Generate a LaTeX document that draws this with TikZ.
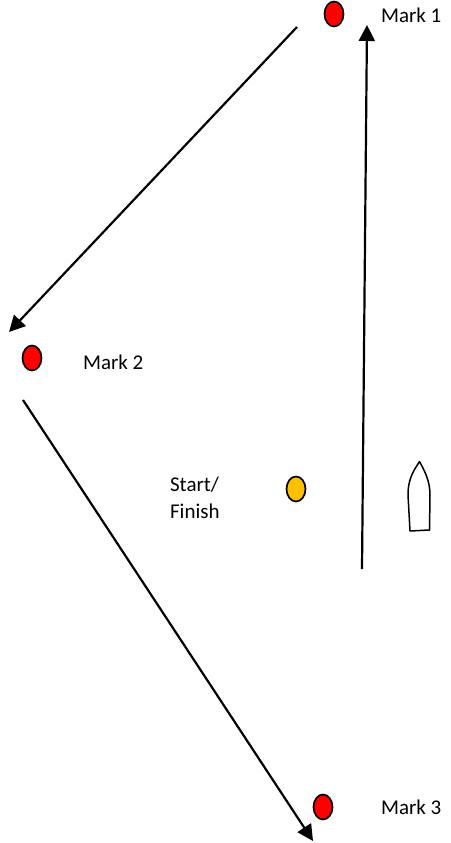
\documentclass[tikz,border=0pt]{standalone}
\usepackage{fontspec}
\setmainfont{Carlito}
\usetikzlibrary{arrows.meta, shapes.geometric}

\begin{document}
\begin{tikzpicture}[
            x = 1pt,
            y = -1pt,
            > = {Triangle[length=16pt, width=16pt]}, % arrow head style
            line width = 2.2pt % line style
        ]

        \tikzset{
            buoy/.style = {
                ellipse,
                draw = black,
                line width = 1.7pt,
                inner sep = 0pt,
                minimum width = 19pt,
                minimum height = 25pt
            },
            marklabel/.style = {
                anchor = west,
                inner sep = 0pt,
                text = black,
                font = \fontsize{21}{27}\selectfont
            }
        }

	\useasboundingbox (0,0) rectangle (450,843);

	\node[buoy, fill=red] (mark1) at (334,14) {};
	\node[buoy, fill=red] (mark2) at (32,358) {};
	\node[buoy, fill=red] (mark3) at (323,807) {};
	\node[buoy, fill={rgb,255:red,255;green,192;blue,0}] (start) at (296,489) {};

	\node[marklabel] (label1) at (380,15) {Mark 1};
	\node[marklabel] (label2) at (82,362) {Mark 2};
	\node[marklabel] (label3) at (380,807) {Mark 3};
	\node[marklabel, align=left] (label4) at (169,498) {Start/\\Finish};

	% legs of the course
	\coordinate (leg1a) at (362,569);
	\coordinate (leg1b) at (367,25);
	\coordinate (leg2a) at (297,27);
	\coordinate (leg2b) at (9,332);
	\coordinate (leg3a) at (23,400);
	\coordinate (leg3b) at (313,841);

	\draw[->] (leg1a) -- (leg1b);
	\draw[->] (leg2a) -- (leg2b);
	\draw[->] (leg3a) -- (leg3b);

	% boat
	\draw[line width=1.5pt, line join=round] (419.5,461.5)
		.. controls (415,469) and (408,477) .. (408,495)
		-- (410,531) -- (429.5,530) -- (430,495)
		.. controls (430,480) and (424,470) .. cycle;

    \end{tikzpicture}
\end{document}
